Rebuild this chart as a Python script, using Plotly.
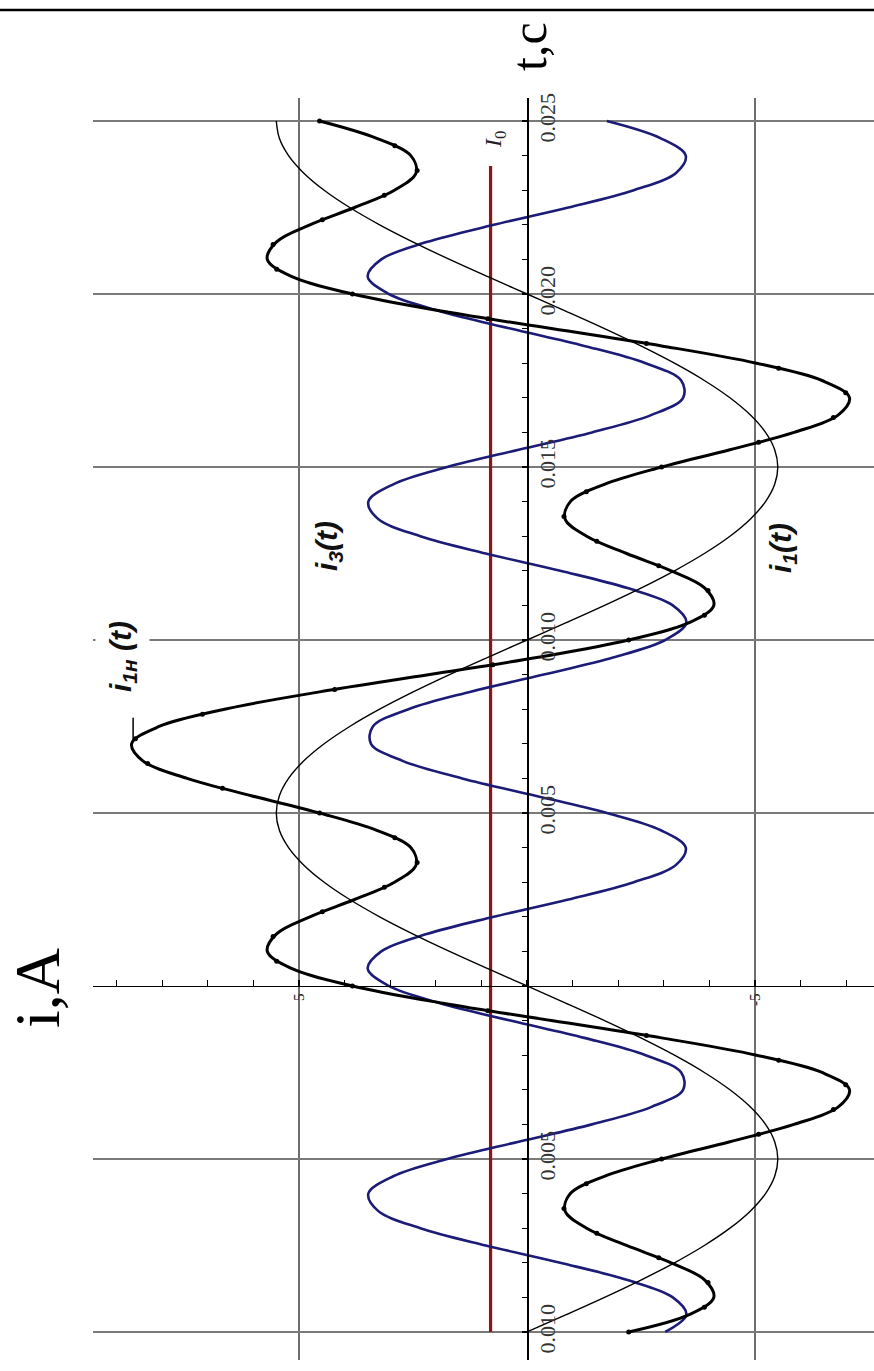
import plotly.graph_objects as go

# ---- data (time in seconds, current in amperes) ----
t = [-0.0100, -0.0095, -0.0090, -0.0085, -0.0080, -0.0075, -0.0070, -0.0065, -0.0060, -0.0055,
     -0.0050, -0.0045, -0.0040, -0.0035, -0.0030, -0.0025, -0.0020, -0.0015, -0.0010, -0.0005,
     0.0000, 0.0005, 0.0010, 0.0015, 0.0020, 0.0025, 0.0030, 0.0035, 0.0040, 0.0045,
     0.0050, 0.0055, 0.0060, 0.0065, 0.0070, 0.0075, 0.0080, 0.0085, 0.0090, 0.0095,
     0.0100, 0.0105, 0.0110, 0.0115, 0.0120, 0.0125, 0.0130, 0.0135, 0.0140, 0.0145,
     0.0150, 0.0155, 0.0160, 0.0165, 0.0170, 0.0175, 0.0180, 0.0185, 0.0190, 0.0195,
     0.0200, 0.0205, 0.0210, 0.0215, 0.0220, 0.0225, 0.0230, 0.0235, 0.0240, 0.0245,
     0.0250]

# i1(t) - thin black curve
i1 = [0, -0.860, -1.700, -2.497, -3.233, -3.889, -4.450, -4.901, -5.231, -5.432,
      -5.5, -5.432, -5.231, -4.901, -4.450, -3.889, -3.233, -2.497, -1.700, -0.860,
      0, 0.860, 1.700, 2.497, 3.233, 3.889, 4.450, 4.901, 5.231, 5.432,
      5.5, 5.432, 5.231, 4.901, 4.450, 3.889, 3.233, 2.497, 1.700, 0.860,
      0, -0.860, -1.700, -2.497, -3.233, -3.889, -4.450, -4.901, -5.231, -5.432,
      -5.5, -5.432, -5.231, -4.901, -4.450, -3.889, -3.233, -2.497, -1.700, -0.860,
      0, 0.860, 1.700, 2.497, 3.233, 3.889, 4.450, 4.901, 5.231, 5.432,
      5.5]

# i3(t) - blue curve
i3 = [-3.031, -3.495, -3.197, -2.203, -0.728, 0.906, 2.342, 3.268, 3.481, 2.935,
      1.75, 0.183, -1.424, -2.720, -3.423, -3.381, -2.601, -1.254, 0.366, 1.906,
      3.031, 3.495, 3.197, 2.203, 0.728, -0.906, -2.342, -3.268, -3.481, -2.935,
      -1.75, -0.183, 1.424, 2.720, 3.423, 3.381, 2.601, 1.254, -0.366, -1.906,
      -3.031, -3.495, -3.197, -2.203, -0.728, 0.906, 2.342, 3.268, 3.481, 2.935,
      1.75, 0.183, -1.424, -2.720, -3.423, -3.381, -2.601, -1.254, 0.366, 1.906,
      3.031, 3.495, 3.197, 2.203, 0.728, -0.906, -2.342, -3.268, -3.481, -2.935,
      -1.75]

# i1н(t) - thick black curve
i1n = [-2.231, -3.555, -4.097, -3.900, -3.161, -2.183, -1.308, -0.833, -0.950, -1.697,
       -2.95, -4.449, -5.855, -6.821, -7.073, -6.470, -5.034, -2.951, -0.534, 1.846,
       3.831, 5.155, 5.697, 5.500, 4.761, 3.783, 2.908, 2.433, 2.550, 3.297,
       4.55, 6.049, 7.455, 8.421, 8.673, 8.070, 6.634, 4.551, 2.134, -0.246,
       -2.231, -3.555, -4.097, -3.900, -3.161, -2.183, -1.308, -0.833, -0.950, -1.697,
       -2.95, -4.449, -5.855, -6.821, -7.073, -6.470, -5.034, -2.951, -0.534, 1.846,
       3.831, 5.155, 5.697, 5.500, 4.761, 3.783, 2.908, 2.433, 2.550, 3.297,
       4.55]

# dots drawn on the i1н(t) curve
t_dots = [-0.010000, -0.009286, -0.008571, -0.007857, -0.007143, -0.006429, -0.005714, -0.005000,
          -0.004286, -0.003571, -0.002857, -0.002143, -0.001429, -0.000714, 0.000000, 0.000714,
          0.001429, 0.002143, 0.002857, 0.003571, 0.004286, 0.005000, 0.005714, 0.006429,
          0.007143, 0.007857, 0.008571, 0.009286, 0.010000, 0.010714, 0.011429, 0.012143,
          0.012857, 0.013571, 0.014286, 0.015000, 0.015714, 0.016429, 0.017143, 0.017857,
          0.018571, 0.019286, 0.020000, 0.020714, 0.021429, 0.022143, 0.022857, 0.023571,
          0.024286, 0.025000]
i1n_dots = [-2.23, -3.89, -3.97, -2.89, -1.53, -0.81, -1.30, -2.95, -5.08, -6.72,
            -6.99, -5.52, -2.62, 0.86, 3.83, 5.49, 5.57, 4.49, 3.13, 2.41,
            2.90, 4.55, 6.68, 8.32, 8.59, 7.12, 4.22, 0.75, -2.23, -3.89,
            -3.97, -2.89, -1.53, -0.81, -1.30, -2.95, -5.08, -6.72, -6.99, -5.52,
            -2.62, 0.86, 3.83, 5.49, 5.57, 4.49, 3.13, 2.41, 2.90, 4.55]

# constant component I0
I0 = 0.8
I0_t = [-0.0100, 0.0237]

# axis ticks
i_tickvals = [5, -5]
i_ticktext = ["5", "-5"]
t_tickvals = [-0.010, -0.005, 0.005, 0.010, 0.015, 0.020, 0.025]
t_ticktext = ["0.010", "0.005", "0.005", "0.010", "0.015", "0.020", "0.025"]

# ---- figure ----
W, H = 874, 1371
ML, MR, MT, MB = 93, 0, 98, 11
PW, PH = W - ML - MR, H - MT - MB
X_RANGE = [9.52, -7.61]
Y_RANGE = [-0.01081, 0.025665]


def px(xp):
    return (xp - ML) / PW


def py(yp):
    return (H - MB - yp) / PH


fig = go.Figure()
fig.add_trace(go.Scatter(x=[I0, I0], y=I0_t, mode="lines",
                         line=dict(color="#8a1717", width=3.2), hoverinfo="skip"))
fig.add_trace(go.Scatter(x=i3, y=t, mode="lines",
                         line=dict(color="#1c1c78", width=2.6, shape="spline"), hoverinfo="skip"))
fig.add_trace(go.Scatter(x=i1, y=t, mode="lines",
                         line=dict(color="#000000", width=1.4, shape="spline"), hoverinfo="skip"))
fig.add_trace(go.Scatter(x=i1n, y=t, mode="lines",
                         line=dict(color="#000000", width=3.0, shape="spline"), hoverinfo="skip"))
fig.add_trace(go.Scatter(x=i1n_dots, y=t_dots, mode="markers",
                         marker=dict(color="#000000", size=5), hoverinfo="skip"))

x_axis_pos = (0 - Y_RANGE[0]) / (Y_RANGE[1] - Y_RANGE[0])
y_axis_pos = (X_RANGE[0] - 0) / (X_RANGE[0] - X_RANGE[1])

serif = "Liberation Serif"
fig.update_layout(
    width=W, height=H,
    margin=dict(l=ML, r=MR, t=MT, b=MB),
    paper_bgcolor="white", plot_bgcolor="white",
    showlegend=False, hovermode=False,
    xaxis=dict(range=X_RANGE, anchor="free", position=x_axis_pos,
               showline=True, linecolor="#000", linewidth=1.5,
               tickmode="array", tickvals=i_tickvals, ticktext=i_ticktext,
               ticks="inside", ticklen=6, tickwidth=1.2, tickcolor="#000", tickangle=-90,
               tickfont=dict(family=serif, size=15, color="#222"),
               showgrid=True, gridcolor="#6e6e6e", gridwidth=1.2, zeroline=False,
               minor=dict(tickmode="linear", tick0=0, dtick=1, ticks="inside", ticklen=6,
                          tickwidth=1.2, tickcolor="#000", showgrid=False)),
    yaxis=dict(range=Y_RANGE, anchor="free", position=y_axis_pos, side="right",
               showline=True, linecolor="#000", linewidth=1.5,
               tickmode="array", tickvals=t_tickvals, ticktext=t_ticktext,
               ticks="inside", ticklen=5, tickwidth=1.2, tickcolor="#000", tickangle=-90,
               tickfont=dict(family=serif, size=22, color="#333"),
               showgrid=True, gridcolor="#7a7a7a", gridwidth=1.2, zeroline=False,
               minor=dict(tickmode="linear", tick0=0, dtick=0.001, ticks="inside", ticklen=5,
                          tickwidth=1.2, tickcolor="#000", showgrid=False)),
)

label_font = dict(family="Liberation Sans", size=30, color="#111")


def label(xp, yp, text, font, **kw):
    fig.add_annotation(x=px(xp), y=py(yp), xref="paper", yref="paper", text=text,
                       showarrow=False, textangle=-90, xanchor="center", yanchor="middle",
                       font=font, **kw)


label(529, 47, "t,c", dict(family=serif, size=50, color="#000"))
label(38, 988, "i,A", dict(family=serif, size=64, color="#000"))
label(122, 657, "<b><i>i<sub>1н</sub> (t)</i></b>", label_font, bgcolor="white", borderpad=8)
label(328, 546, "<b><i>i<sub>3</sub>(t)</i></b>", label_font)
label(782, 548, "<b><i>i<sub>1</sub>(t)</i></b>", label_font)
label(495, 140, "<i>I</i><sub>0</sub>", dict(family=serif, size=24, color="#222"),
      bgcolor="white", borderpad=3)

# leader line from the i1н label to the curve peak
fig.add_shape(type="line", xref="x", yref="y", x0=8.64, x1=8.64, y0=0.00711, y1=0.00775,
              line=dict(color="#000", width=1.5))
# top border line
fig.add_shape(type="line", xref="paper", yref="paper", x0=px(0), x1=px(W), y0=py(10), y1=py(10),
              line=dict(color="#000", width=2.5))

fig.write_html("out.html",
               config={"displayModeBar": False, "staticPlot": True},
               post_script="document.body.style.margin='0';document.body.style.overflow='hidden';")
